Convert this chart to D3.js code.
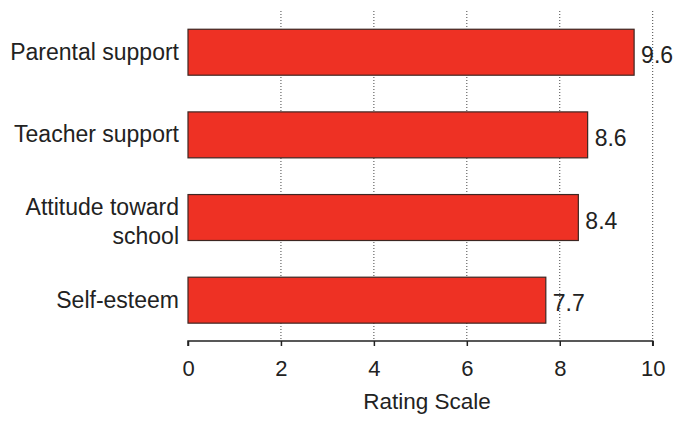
<!DOCTYPE html>
<html>
<head>
<meta charset="utf-8">
<script src="https://cdn.jsdelivr.net/npm/d3@7"></script>
<style>
  html, body { margin: 0; padding: 0; background: #fff; }
  svg { display: block; font-family: "Liberation Sans", Arial, Helvetica, sans-serif; }
</style>
</head>
<body>
<svg id="chart" width="675" height="423"></svg>
<script>
const categories = ["Parental support", "Teacher support", "Attitude toward school", "Self-esteem"];
const categoryLines = [["Parental support"], ["Teacher support"], ["Attitude toward", "school"], ["Self-esteem"]];
const values = [9.6, 8.6, 8.4, 7.7];
const valueLabels = ["9.6", "8.6", "8.4", "7.7"];
const tickValues = [0, 2, 4, 6, 8, 10];
const axisTitle = "Rating Scale";

const svg = d3.select("#chart");
const x = d3.scaleLinear().domain([0, 10]).range([188, 652.7]);
const y = d3.scaleBand().domain(categories).range([10.9, 341.5]).paddingInner(0.444).paddingOuter(0.222);
const axisY = 341;

// gridlines
svg.append("g").selectAll("line")
  .data(tickValues.filter(d => d > 0))
  .join("line")
  .attr("x1", d => x(d)).attr("x2", d => x(d))
  .attr("y1", 11).attr("y2", axisY)
  .attr("stroke", "#444")
  .attr("stroke-width", 1)
  .attr("stroke-dasharray", "1,2");

// bars
svg.append("g").selectAll("rect")
  .data(categories)
  .join("rect")
  .attr("x", x(0))
  .attr("y", d => y(d))
  .attr("width", (d, i) => x(values[i]) - x(0))
  .attr("height", y.bandwidth())
  .attr("fill", "#ee3124")
  .attr("stroke", "#3d2622")
  .attr("stroke-width", 1.2);

// value labels
svg.append("g").selectAll("text")
  .data(categories)
  .join("text")
  .attr("x", (d, i) => x(values[i]) + 7)
  .attr("y", d => y(d) + y.bandwidth() / 2 + 11)
  .attr("font-size", 23)
  .attr("fill", "#222")
  .text((d, i) => valueLabels[i]);

// category labels
const catG = svg.append("g");
categories.forEach((c, i) => {
  const lines = categoryLines[i];
  const cy = y(c) + y.bandwidth() / 2;
  const t = catG.append("text")
    .attr("text-anchor", "end")
    .attr("font-size", 23)
    .attr("fill", "#222");
  if (lines.length === 1) {
    t.append("tspan").attr("x", 179).attr("y", cy + 7.5).text(lines[0]);
  } else {
    t.append("tspan").attr("x", 179).attr("y", cy - 2.5).text(lines[0]);
    t.append("tspan").attr("x", 179).attr("y", cy + 26.5).text(lines[1]);
  }
});

// x axis
const axis = d3.axisBottom(x).tickValues(tickValues).tickSize(5).tickPadding(14).tickFormat(d3.format("d"));
const ax = svg.append("g").attr("transform", `translate(0,${axisY})`).call(axis);
ax.select(".domain").attr("stroke", "#222").attr("stroke-width", 1.5)
  .attr("d", `M${x(0)},5V0H${x(10)}V5`);
ax.selectAll(".tick line").attr("stroke", "#222").attr("stroke-width", 1.5);
ax.selectAll(".tick text")
  .attr("font-size", 22)
  .attr("font-family", "'Liberation Sans', Arial, sans-serif")
  .attr("fill", "#222");

svg.append("text")
  .attr("x", 427)
  .attr("y", 409)
  .attr("text-anchor", "middle")
  .attr("font-size", 22.5)
  .attr("fill", "#222")
  .text(axisTitle);
</script>
</body>
</html>
